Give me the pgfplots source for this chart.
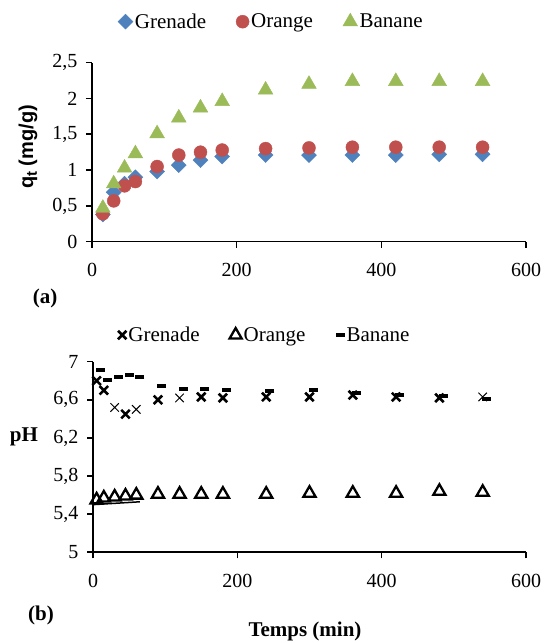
\documentclass[border=0pt]{standalone}
\usepackage{pgfplots}
\pgfplotsset{compat=1.18}
\usepackage{fontspec}
\setmainfont{Liberation Serif}
\newfontfamily\arialfont{Liberation Sans}
\definecolor{xblue}{HTML}{4F81BD}
\definecolor{xred}{HTML}{C0504D}
\definecolor{xgreen}{HTML}{9BBB59}
\begin{document}
\begin{tikzpicture}
\useasboundingbox (0,0) rectangle (547bp,643bp);
\pgfplotsset{
  every axis/.append style={
    scale only axis,
    axis lines=left,
    axis line style={-, line width=1.6bp, black},
    tick style={line width=1.6bp, black},
    tick align=outside,
    major tick length=6bp,
    xmin=0, xmax=600, xtick={0,200,400,600},
    /pgf/number format/assume math mode=true,
    /pgf/number format/use comma,
    ticklabel style={font=\fontsize{20bp}{24bp}\selectfont},
    xticklabel style={yshift=-12bp},
    yticklabel style={xshift=-5bp},
    legend cell align=left,
    legend columns=3,
    legend image code/.code={\draw[mark repeat=2,mark phase=2,#1] plot coordinates {(0bp,0bp)(6bp,0bp)(12bp,0bp)};},
    legend style={draw=none, fill=none, inner sep=0pt, outer sep=0pt, anchor=west,
      font=\fontsize{21bp}{25bp}\selectfont, nodes={inner xsep=2bp, inner ysep=1bp},
      /tikz/every even column/.append style={column sep=28bp}},
    clip=false,
  }
}
% ---------- (a) ----------
\begin{axis}[at={(92bp,401.3bp)}, anchor=south west, width=434bp, height=179bp,
  ymin=0, ymax=2.5, ytick={0,0.5,1,1.5,2,2.5},
  legend style={at={(0.0599,1.229)}}]
\addplot[only marks, mark=square*, mark size=5.3bp, mark options={rotate=45, fill=xblue, draw=xblue}]
  coordinates {(15,0.38)(30,0.69)(45,0.81)(60,0.90)(90,0.98)(120,1.07)(150,1.14)(180,1.19)(240,1.21)(300,1.21)(360,1.21)(420,1.21)(480,1.22)(540,1.22)};
\addlegendentry{Grenade}
\addplot[only marks, mark=*, mark size=6.5bp, mark options={fill=xred, draw=xred}]
  coordinates {(15,0.39)(30,0.57)(45,0.78)(60,0.84)(90,1.05)(120,1.21)(150,1.25)(180,1.28)(240,1.30)(300,1.31)(360,1.32)(420,1.32)(480,1.32)(540,1.32)};
\addlegendentry{Orange}
\addplot[only marks, mark=triangle*, mark size=8.5bp, mark options={fill=xgreen, draw=xgreen}]
  coordinates {(15,0.47)(30,0.81)(45,1.03)(60,1.23)(90,1.51)(120,1.73)(150,1.87)(180,1.96)(240,2.12)(300,2.20)(360,2.24)(420,2.24)(480,2.24)(540,2.24)};
\addlegendentry{Banane}
\end{axis}
% ---------- (b) ----------
\begin{axis}[at={(93bp,90.7bp)}, anchor=south west, width=433bp, height=190.6bp,
  ymin=5, ymax=7, ytick={5,5.4,5.8,6.2,6.6,7},
  legend style={at={(0.0577,1.140)}}]
\addplot[only marks, mark=x, mark size=6bp, line width=2.6bp, black]
  coordinates {(5,6.80)(15,6.70)(45,6.45)(90,6.60)(150,6.63)(180,6.62)(240,6.63)(300,6.63)(360,6.65)(420,6.63)(480,6.62)};
\addlegendentry{Grenade}
\addplot[only marks, mark=triangle, mark size=7bp, line width=2.3bp, black]
  coordinates {(5,5.55)(15,5.57)(30,5.58)(45,5.59)(60,5.60)(90,5.61)(120,5.61)(150,5.61)(180,5.61)(240,5.61)(300,5.62)(360,5.62)(420,5.62)(480,5.64)(540,5.63)};
\addlegendentry{Orange}
\addplot[only marks, mark=-, mark size=4.5bp, line width=4bp, black]
  coordinates {(10,6.91)(20,6.81)(35,6.84)(50,6.86)(65,6.84)(95,6.75)(125,6.71)(155,6.71)(185,6.70)(245,6.69)(305,6.70)(365,6.67)(425,6.65)(485,6.64)(545,6.61)};
\addlegendentry{Banane}
\addplot[only marks, mark=x, mark size=6bp, line width=1bp, black, forget plot]
  coordinates {(30,6.52)(60,6.50)(120,6.62)(540,6.63)};
\addplot[black, line width=1.5bp, forget plot] coordinates {(0,5.50)(65,5.53)};
\end{axis}
\node[font=\bfseries\fontsize{21bp}{25bp}\selectfont] at (45bp,345bp) {(a)};
\node[font=\bfseries\fontsize{21bp}{25bp}\selectfont] at (41bp,28bp) {(b)};
\node[font=\bfseries\fontsize{21bp}{25bp}\selectfont] at (305bp,12bp) {Temps (min)};
\node[font=\bfseries\fontsize{21bp}{25bp}\selectfont] at (24bp,206bp) {pH};
\node[rotate=90, font=\arialfont\bfseries\fontsize{20bp}{24bp}\selectfont] at (28bp,496bp) {q\raisebox{-0.35ex}{\fontsize{15bp}{17bp}\selectfont t} (mg/g)};
\end{tikzpicture}
\end{document}
